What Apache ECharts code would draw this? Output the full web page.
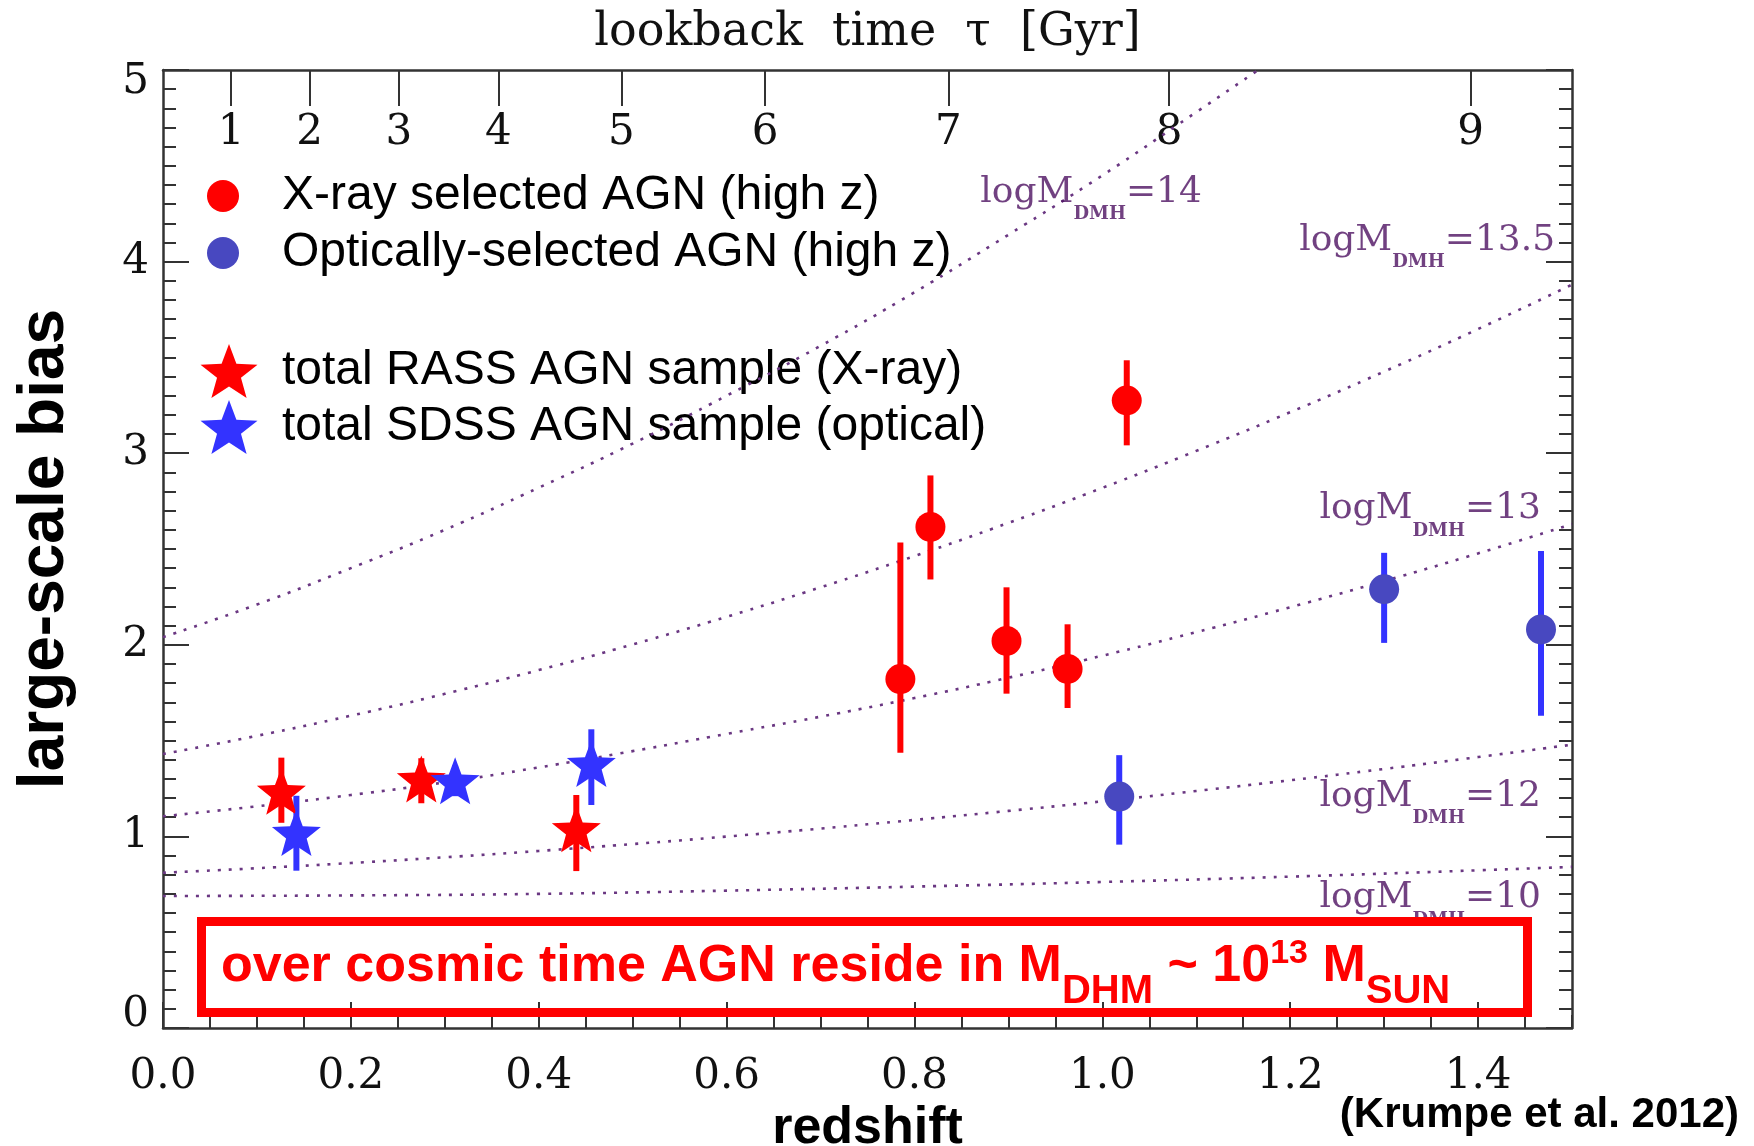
<!DOCTYPE html>
<html><head><meta charset="utf-8">
<script src="https://cdn.jsdelivr.net/npm/echarts@6/dist/echarts.min.js"></script>
<style>html,body{margin:0;padding:0;background:#fff}#c{width:1754px;height:1146px}</style>
</head><body><div id="c"></div>
<script>
// ---------- data ----------
const xrayZ  = [0.785, 0.817, 0.898, 0.963, 1.026];
const xrayB  = [1.821, 2.615, 2.020, 1.874, 3.275];
const xrayLo = [1.436, 2.341, 1.745, 1.670, 3.041];
const xrayHi = [2.534, 2.884, 2.300, 2.107, 3.485];

const optZ  = [1.018, 1.300, 1.467];
const optB  = [1.208, 2.290, 2.080];
const optLo = [0.957, 2.010, 1.630];
const optHi = [1.424, 2.480, 2.490];

const rassZ  = [0.126, 0.275, 0.440];
const rassB  = [1.235, 1.300, 1.040];
const rassLo = [1.071, 1.173, 0.819];
const rassHi = [1.411, 1.408, 1.216];

const sdssZ  = [0.142, 0.311, 0.456];
const sdssB  = [1.020, 1.290, 1.380];
const sdssLo = [0.821, 1.210, 1.164];
const sdssHi = [1.212, 1.370, 1.559];

const curve14Z  = [0, 0.1, 0.2, 0.3, 0.4, 0.5, 0.6, 0.7, 0.8, 0.9, 1.0, 1.1, 1.166];
const curve14B  = [2.04, 2.21, 2.40, 2.60, 2.82, 3.05, 3.30, 3.56, 3.84, 4.14, 4.45, 4.78, 5.0];
const curve135Z = [0, 0.1, 0.2, 0.3, 0.4, 0.5, 0.6, 0.7, 0.8, 0.9, 1.0, 1.1, 1.2, 1.3, 1.4, 1.5];
const curve135B = [1.43, 1.525, 1.63, 1.744, 1.868, 2.002, 2.146, 2.30, 2.463, 2.636, 2.819, 3.012, 3.214, 3.426, 3.648, 3.88];
const curve13Z  = [0, 0.1, 0.2, 0.3, 0.4, 0.5, 0.6, 0.7, 0.8, 0.9, 1.0, 1.1, 1.2, 1.3, 1.4, 1.5];
const curve13B  = [1.105, 1.157, 1.216, 1.282, 1.36, 1.445, 1.535, 1.625, 1.722, 1.828, 1.943, 2.066, 2.196, 2.333, 2.477, 2.63];
const curve12Z  = [0, 0.1, 0.2, 0.3, 0.4, 0.5, 0.6, 0.7, 0.8, 0.9, 1.0, 1.1, 1.2, 1.3, 1.4, 1.5];
const curve12B  = [0.81, 0.834, 0.861, 0.891, 0.924, 0.960, 0.999, 1.041, 1.086, 1.133, 1.183, 1.237, 1.293, 1.352, 1.414, 1.479];
const curve10Z  = [0, 0.2, 0.4, 0.6, 0.8, 1.0, 1.2, 1.4, 1.5];
const curve10B  = [0.689, 0.692, 0.700, 0.717, 0.738, 0.762, 0.790, 0.823, 0.841];

const curveLabelMass = ['14', '13.5', '13', '12', '10'];
const curveLabelZ    = [1.106, 1.482, 1.467, 1.467, 1.467];
const curveLabelB    = [4.361, 4.110, 2.709, 1.209, 0.678];

const lookbackLabels = ['1', '2', '3', '4', '5', '6', '7', '8', '9'];
const lookbackZ      = [0.0726, 0.156, 0.251, 0.357, 0.488, 0.641, 0.836, 1.071, 1.392];

const legendNames = ['X-ray selected AGN (high z)', 'Optically-selected AGN (high z)',
                     'total RASS AGN sample (X-ray)', 'total SDSS AGN sample (optical)'];

// ---------- styling ----------
const RED = '#ff0000', BLUE = '#3333ff', BLUEDOT = '#4848c0';
const CURVE = '#6a3782', CURVETXT = '#4e1262', AX = '#333';
const SERIF = 'DejaVu Serif', SANS = 'Liberation Sans';
const STARVERTS = [[100,0],[124.69,66.02],[195.11,69.1],[139.94,112.98],[158.78,180.9],[100,142],[41.22,180.9],[60.06,112.98],[4.89,69.1],[75.31,66.02]];
const STAR = 'path://M' + STARVERTS.map(p => p.join(',')).join(' L') + ' Z';

function starPoints(cx, cy, w, h) {
  const x0 = 4.89, x1 = 195.11, y0 = 0, y1 = 180.9;
  return STARVERTS.map(([x, y]) => [cx - w / 2 + (x - x0) / (x1 - x0) * w, cy - h / 2 + (y - y0) / (y1 - y0) * h]);
}

const zip2 = (a, b) => a.map((v, i) => [v, b[i]]);
const zip3 = (a, b, c) => a.map((v, i) => [v, b[i], c[i]]);

function errItem(color, width) {
  return function (params, api) {
    const p1 = api.coord([api.value(0), api.value(1)]);
    const p2 = api.coord([api.value(0), api.value(2)]);
    return { type: 'line', shape: { x1: p1[0], y1: p1[1], x2: p2[0], y2: p2[1] },
             style: { stroke: color, lineWidth: width } };
  };
}
function errSeries(z, lo, hi, color) {
  return { type: 'custom', xAxisIndex: 0, yAxisIndex: 0, silent: true,
           renderItem: errItem(color, 6), encode: { x: 0, y: [1, 2] },
           data: zip3(z, lo, hi), z: 3 };
}
function curveSeries(z, b) {
  return { type: 'line', xAxisIndex: 0, yAxisIndex: 0, silent: true, showSymbol: false,
           smooth: true, data: zip2(z, b), z: 2,
           lineStyle: { color: CURVE, width: 2.6, type: [3, 8] } };
}

const curveLabelData = curveLabelMass.map((m, i) => ({ value: [curveLabelZ[i], curveLabelB[i]], mass: m }));

const GRID = { left: 163, right: 182, top: 70, bottom: 118, containLabel: false, outerBoundsMode: 'none' };
const tickStyle = { color: AX, width: 2 };
const lineStyle = { color: AX, width: 2.5 };

const legendTextStyle = { fontFamily: SANS, fontSize: 48, fill: '#000', verticalAlign: 'middle', align: 'left' };
const legendGraphic = [
  { type: 'circle', shape: { cx: 223, cy: 196, r: 16 }, style: { fill: RED } },
  { type: 'circle', shape: { cx: 223, cy: 253, r: 16 }, style: { fill: BLUEDOT } },
  { type: 'polygon', shape: { points: starPoints(229, 371, 57, 54) }, style: { fill: RED } },
  { type: 'polygon', shape: { points: starPoints(229, 427, 57, 54) }, style: { fill: BLUE } },
  { type: 'text', x: 282, y: 196, style: Object.assign({ text: legendNames[0] }, legendTextStyle) },
  { type: 'text', x: 282, y: 253, style: Object.assign({ text: legendNames[1] }, legendTextStyle) },
  { type: 'text', x: 282, y: 371, style: Object.assign({ text: legendNames[2] }, legendTextStyle) },
  { type: 'text', x: 282, y: 427, style: Object.assign({ text: legendNames[3] }, legendTextStyle) }
];

const yLabelRich = {
  n:   { fontFamily: SERIF, fontSize: 42, color: '#111' },
  top: { fontFamily: SERIF, fontSize: 42, color: '#111', padding: [24, 0, 0, 0] },
  bot: { fontFamily: SERIF, fontSize: 42, color: '#111', padding: [0, 0, 26, 0] }
};

const chart = echarts.init(document.getElementById('c'), null, { renderer: 'canvas' });
chart.setOption({
  backgroundColor: '#fff',
  animation: false,
  grid: [Object.assign({}, GRID), Object.assign({}, GRID)],
  xAxis: [
    { type: 'value', gridIndex: 0, position: 'bottom', min: 0, max: 1.5, interval: 0.2,
      name: 'redshift', nameLocation: 'middle', nameGap: 70,
      nameTextStyle: { fontFamily: SANS, fontWeight: 'bold', fontSize: 52, color: '#000' },
      axisLine: { show: true, onZero: false, lineStyle: lineStyle },
      axisTick: { show: true, inside: true, length: 26, lineStyle: tickStyle },
      axisLabel: { show: true, margin: 28, showMaxLabel: false, fontFamily: SERIF, fontSize: 42, color: '#111',
                   formatter: v => v.toFixed(1) },
      splitLine: { show: false } },
    { type: 'value', gridIndex: 0, position: 'top', min: 0, max: 1.5,
      name: 'lookback  time  \u03c4  [Gyr]', nameLocation: 'middle', nameGap: 14,
      nameTextStyle: { fontFamily: SERIF, fontSize: 46, color: '#111' },
      axisLine: { show: true, onZero: false, lineStyle: lineStyle },
      axisTick: { show: true, inside: true, length: 36, customValues: lookbackZ, lineStyle: tickStyle },
      axisLabel: { show: true, inside: true, margin: 42, customValues: lookbackZ, fontFamily: SERIF, fontSize: 42, color: '#111',
                   formatter: v => { let k = 0; lookbackZ.forEach((z, i) => { if (Math.abs(z - v) < Math.abs(lookbackZ[k] - v)) k = i; }); return lookbackLabels[k]; } },
      splitLine: { show: false } },
    { type: 'value', gridIndex: 1, position: 'bottom', min: 0, max: 1.5, interval: 0.05,
      axisLine: { show: false, onZero: false },
      axisTick: { show: true, inside: true, length: 13, lineStyle: tickStyle },
      axisLabel: { show: false }, splitLine: { show: false } }
  ],
  yAxis: [
    { type: 'value', gridIndex: 0, position: 'left', min: 0, max: 5, interval: 1,
      name: 'large-scale bias', nameLocation: 'middle', nameGap: 86, nameRotate: 90,
      nameTextStyle: { fontFamily: SANS, fontWeight: 'bold', fontSize: 64, color: '#000' },
      axisLine: { show: true, onZero: false, lineStyle: lineStyle },
      axisTick: { show: true, inside: true, length: 26, lineStyle: tickStyle },
      minorTick: { show: true, splitNumber: 10, length: 13, lineStyle: tickStyle },
      axisLabel: { show: true, margin: 14, rich: yLabelRich,
                   formatter: v => v === 5 ? '{top|5}' : (v === 0 ? '{bot|0}' : '{n|' + v + '}') },
      splitLine: { show: false }, minorSplitLine: { show: false } },
    { type: 'value', gridIndex: 0, position: 'right', min: 0, max: 5, interval: 1,
      axisLine: { show: true, onZero: false, lineStyle: lineStyle },
      axisTick: { show: true, inside: true, length: 26, lineStyle: tickStyle },
      minorTick: { show: true, splitNumber: 10, length: 13, lineStyle: tickStyle },
      axisLabel: { show: false }, splitLine: { show: false }, minorSplitLine: { show: false } },
    { type: 'value', gridIndex: 1, position: 'left', min: 0, max: 5, show: false }
  ],
  series: [
    curveSeries(curve14Z, curve14B),
    curveSeries(curve135Z, curve135B),
    curveSeries(curve13Z, curve13B),
    curveSeries(curve12Z, curve12B),
    curveSeries(curve10Z, curve10B),
    { type: 'scatter', xAxisIndex: 0, yAxisIndex: 0, silent: true, symbolSize: 0, z: 2,
      data: curveLabelData,
      label: { show: true, position: 'left', distance: 0,
               formatter: p => '{m|logM}{s|DMH}{m|=' + p.data.mass + '}',
               rich: {
                 m: { fontFamily: SERIF, fontSize: 36, color: CURVETXT, lineHeight: 40 },
                 s: { fontFamily: SERIF, fontSize: 18, fontWeight: 'bold', color: CURVETXT, lineHeight: 20, padding: [44, 0, 0, 0] }
               } } },
    errSeries(rassZ, rassLo, rassHi, RED),
    { name: legendNames[2], type: 'scatter', xAxisIndex: 0, yAxisIndex: 0, symbol: STAR, symbolSize: [49, 47], z: 4,
      itemStyle: { color: RED, opacity: 1 }, data: zip2(rassZ, rassB) },
    errSeries(sdssZ, sdssLo, sdssHi, BLUE),
    { name: legendNames[3], type: 'scatter', xAxisIndex: 0, yAxisIndex: 0, symbol: STAR, symbolSize: [49, 47], z: 4,
      itemStyle: { color: BLUE, opacity: 1 }, data: zip2(sdssZ, sdssB) },
    errSeries(xrayZ, xrayLo, xrayHi, RED),
    { name: legendNames[0], type: 'scatter', xAxisIndex: 0, yAxisIndex: 0, symbol: 'circle', symbolSize: 30, z: 4,
      itemStyle: { color: RED, opacity: 1 }, data: zip2(xrayZ, xrayB) },
    errSeries(optZ, optLo, optHi, BLUE),
    { name: legendNames[1], type: 'scatter', xAxisIndex: 0, yAxisIndex: 0, symbol: 'circle', symbolSize: 30, z: 4,
      itemStyle: { color: BLUEDOT, opacity: 1 }, data: zip2(optZ, optB) }
  ],
  graphic: legendGraphic.concat([
    { type: 'rect', z: 10, shape: { x: 201.5, y: 921.5, width: 1326, height: 91 },
      style: { fill: null, stroke: RED, lineWidth: 9 } },
    { type: 'text', z: 10, x: 221, y: 967,
      style: { text: '{a|over cosmic time AGN reside in M}{sub|DHM}{a| ~ 10}{sup|13}{a| M}{sub|SUN}',
               verticalAlign: 'middle', align: 'left',
               rich: {
                 a:   { fontFamily: SANS, fontWeight: 'bold', fontSize: 52, fill: RED, lineHeight: 56 },
                 sub: { fontFamily: SANS, fontWeight: 'bold', fontSize: 40, fill: RED, lineHeight: 44, padding: [50, 0, 0, 0] },
                 sup: { fontFamily: SANS, fontWeight: 'bold', fontSize: 34, fill: RED, lineHeight: 38, padding: [0, 0, 27, 0] }
               } } },
    { type: 'text', z: 10, x: 1739, y: 1115,
      style: { text: '(Krumpe et al. 2012)', fontFamily: SANS, fontWeight: 'bold', fontSize: 42, fill: '#000',
               align: 'right', verticalAlign: 'middle' } }
  ])
});
</script></body></html>
